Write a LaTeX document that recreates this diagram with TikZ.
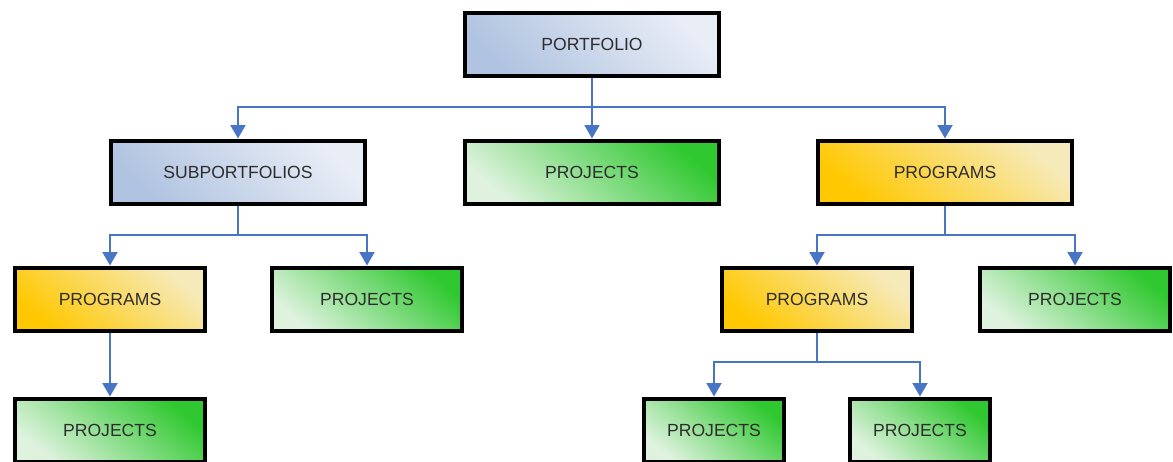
\documentclass[tikz,border=0pt]{standalone}
\usepackage{fontspec}
\setmainfont{Liberation Sans}
\usetikzlibrary{arrows.meta}
\definecolor{conncol}{RGB}{72,118,196}
\definecolor{txtcol}{RGB}{45,45,45}
\definecolor{bluedark}{RGB}{176,195,224}
\definecolor{bluelight}{RGB}{232,237,246}
\definecolor{greendark}{RGB}{48,200,48}
\definecolor{greenlight}{RGB}{222,242,222}
\definecolor{yeldark}{RGB}{255,200,0}
\definecolor{yellight}{RGB}{246,234,186}
\tikzset{
  box/.style={draw=black, line width=0.08cm, inner sep=0pt, align=center,
    text=txtcol, font=\fontsize{10}{12}\selectfont, minimum height=1.26cm},
  wide/.style={minimum width=5.08cm},
  mid/.style={minimum width=3.82cm},
  small/.style={minimum width=2.82cm},
  bluebox/.style={box, top color=bluelight, bottom color=bluedark, shading angle=-45},
  greenbox/.style={box, top color=greendark, middle color=greendark!70!greenlight, bottom color=greenlight, shading angle=-40},
  yelbox/.style={box, top color=yellight, middle color=yeldark!70!yellight, bottom color=yeldark, shading angle=-40},
  conn/.style={draw=conncol, line width=0.04cm},
  arr/.style={conn, -{Triangle[width=0.3cm,length=0.27cm]}},
}
\begin{document}
\begin{tikzpicture}[x=0.02cm, y=-0.02cm]
\useasboundingbox (0,0) rectangle (1173,461);
% nodes
\node[bluebox, wide] (portfolio) at (592,44) {PORTFOLIO};
\node[bluebox, wide] (sub) at (238,172) {SUBPORTFOLIOS};
\node[greenbox, wide] (proj1) at (592,172) {PROJECTS};
\node[yelbox, wide] (prog1) at (945,172) {PROGRAMS};
\node[yelbox, mid] (prog2) at (110,299) {PROGRAMS};
\node[greenbox, mid] (proj2) at (367,299) {PROJECTS};
\node[yelbox, mid] (prog3) at (817,299) {PROGRAMS};
\node[greenbox, mid] (proj3) at (1075,299) {PROJECTS};
\node[greenbox, mid] (proj4) at (110,430) {PROJECTS};
\node[greenbox, small] (proj5) at (714,430) {PROJECTS};
\node[greenbox, small] (proj6) at (920,430) {PROJECTS};
% bus coordinates
\coordinate (b1) at (592,107);
\coordinate (b2) at (238,235);
\coordinate (b3) at (945,235);
\coordinate (b4) at (817,362);
% connectors
\draw[conn] (portfolio.south) -- (b1);
\draw[arr] (b1) -| (sub.north);
\draw[arr] (b1) -- (proj1.north);
\draw[arr] (b1) -| (prog1.north);
\draw[conn] (sub.south) -- (b2);
\draw[arr] (b2) -| (prog2.north);
\draw[arr] (b2) -| (proj2.north);
\draw[conn] (prog1.south) -- (b3);
\draw[arr] (b3) -| (prog3.north);
\draw[arr] (b3) -| (proj3.north);
\draw[arr] (prog2.south) -- (proj4.north);
\draw[conn] (prog3.south) -- (b4);
\draw[arr] (b4) -| (proj5.north);
\draw[arr] (b4) -| (proj6.north);
\end{tikzpicture}
\end{document}
